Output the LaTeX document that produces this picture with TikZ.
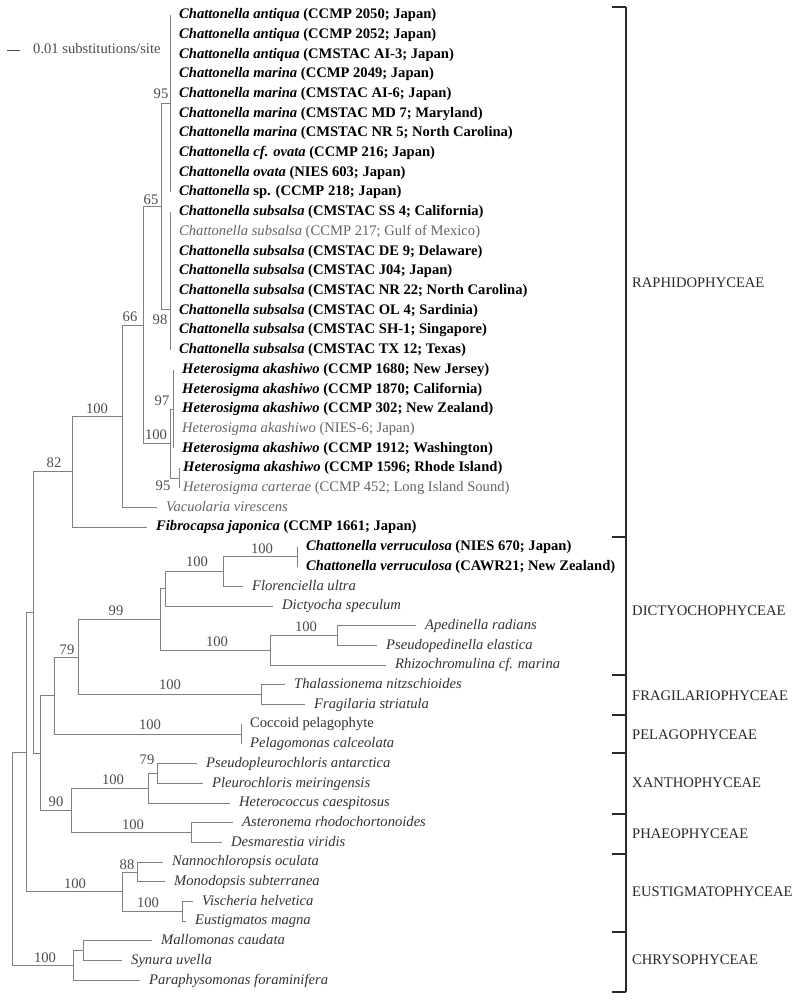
\documentclass[tikz,border=0pt]{standalone}
\usepackage{fontspec}
\setmainfont{Liberation Serif}
\usepackage{xcolor}
\usepackage{tikz}
\definecolor{TreeGray}{RGB}{128,128,128}
\definecolor{TextGray}{RGB}{100,100,100}
\definecolor{TextDark}{RGB}{50,50,50}
\definecolor{LabelGray}{RGB}{75,75,75}
\definecolor{BracketDark}{RGB}{40,40,40}
\newcommand{\strainb}[2]{\textbf{\textit{#1} #2}}
\newcommand{\straing}[2]{\textcolor{TextGray}{\textit{#1} #2}}
\newcommand{\taxon}[1]{\textcolor{TextDark}{\textit{#1}}}

\begin{document}
\begin{tikzpicture}[x=1pt, y=-1pt,
          leaf/.style={anchor=west, inner xsep=9pt, inner ysep=0pt,
                       text height=10.4pt, text depth=3pt,
                       font=\fontsize{14.6}{16}\selectfont},
          br/.style={draw=TreeGray, line width=0.9pt},
          bs/.style={font=\fontsize{14.6}{16}\selectfont, text=LabelGray,
                     inner sep=0pt},
          grp/.style={anchor=west, inner sep=0pt, text=BracketDark,
                      font=\fontsize{14.6}{16}\selectfont},
          bkt/.style={draw=BracketDark, line width=1.4pt}
        ]
        \useasboundingbox (0,0) rectangle (800,1000);
        % Scale bar
        \coordinate (sbL) at (7,50);
        \coordinate (sbR) at (20,50);
        \draw[br, draw=LabelGray] (sbL) -- (sbR);
        \node[leaf, inner xsep=0pt, text=LabelGray] (sbT) at (33,50)
              {0.01 substitutions/site};

        % Leaves
        \foreach \i/\tx/\txt in {
          1/170/{\strainb{Chattonella antiqua}{(CCMP 2050; Japan)}},
          2/170/{\strainb{Chattonella antiqua}{(CCMP 2052; Japan)}},
          3/170/{\strainb{Chattonella antiqua}{(CMSTAC AI-3; Japan)}},
          4/170/{\strainb{Chattonella marina}{(CCMP 2049; Japan)}},
          5/170/{\strainb{Chattonella marina}{(CMSTAC AI-6; Japan)}},
          6/170/{\strainb{Chattonella marina}{(CMSTAC MD 7; Maryland)}},
          7/170/{\strainb{Chattonella marina}{(CMSTAC NR 5; North Carolina)}},
          8/170/{\strainb{Chattonella cf. ovata}{(CCMP 216; Japan)}},
          9/170/{\strainb{Chattonella ovata}{(NIES 603; Japan)}},
          10/170/{\strainb{Chattonella}{sp. (CCMP 218; Japan)}},
          11/170/{\strainb{Chattonella subsalsa}{(CMSTAC SS 4; California)}},
          12/170/{\straing{Chattonella subsalsa}{(CCMP 217; Gulf of Mexico)}},
          13/170/{\strainb{Chattonella subsalsa}{(CMSTAC DE 9; Delaware)}},
          14/170/{\strainb{Chattonella subsalsa}{(CMSTAC J04; Japan)}},
          15/170/{\strainb{Chattonella subsalsa}{(CMSTAC NR 22; North Carolina)}},
          16/170/{\strainb{Chattonella subsalsa}{(CMSTAC OL 4; Sardinia)}},
          17/170/{\strainb{Chattonella subsalsa}{(CMSTAC SH-1; Singapore)}},
          18/170/{\strainb{Chattonella subsalsa}{(CMSTAC TX 12; Texas)}},
          19/173/{\strainb{Heterosigma akashiwo}{(CCMP 1680; New Jersey)}},
          20/173/{\strainb{Heterosigma akashiwo}{(CCMP 1870; California)}},
          21/173/{\strainb{Heterosigma akashiwo}{(CCMP 302; New Zealand)}},
          22/173/{\straing{Heterosigma akashiwo}{(NIES-6; Japan)}},
          23/173/{\strainb{Heterosigma akashiwo}{(CCMP 1912; Washington)}},
          26/157/{\textcolor{TextGray}{\textit{Vacuolaria virescens}}},
          27/147/{\strainb{Fibrocapsa japonica}{(CCMP 1661; Japan)}},
          28/297/{\strainb{Chattonella verruculosa}{(NIES 670; Japan)}},
          29/297/{\strainb{Chattonella verruculosa}{(CAWR21; New Zealand)}},
          30/243/{\taxon{Florenciella ultra}},
          31/273/{\taxon{Dictyocha speculum}},
          32/416/{\taxon{Apedinella radians}},
          33/377/{\taxon{Pseudopedinella elastica}},
          34/386/{\taxon{Rhizochromulina cf. marina}},
          35/285/{\taxon{Thalassionema nitzschioides}},
          36/305/{\taxon{Fragilaria striatula}},
          37/241/{\textcolor{TextDark}{Coccoid pelagophyte}},
          38/241/{\taxon{Pelagomonas calceolata}},
          39/197/{\taxon{Pseudopleurochloris antarctica}},
          40/203/{\taxon{Pleurochloris meiringensis}},
          41/230/{\taxon{Heterococcus caespitosus}},
          42/233/{\taxon{Asteronema rhodochortonoides}},
          43/222/{\taxon{Desmarestia viridis}},
          44/163/{\taxon{Nannochloropsis oculata}},
          45/165/{\taxon{Monodopsis subterranea}},
          46/193/{\taxon{Vischeria helvetica}},
          47/186/{\taxon{Eustigmatos magna}},
          48/152/{\taxon{Mallomonas caudata}},
          49/122/{\taxon{Synura uvella}},
          50/140/{\taxon{Paraphysomonas foraminifera}}} {
          \node[leaf] (t\i) at (\tx, {15+(\i-1)*19.7}) {\txt};
        }
        \foreach \i/\txt in {
          24/{\strainb{Heterosigma akashiwo}{(CCMP 1596; Rhode Island)}},
          25/{\straing{Heterosigma carterae}{(CCMP 452; Long Island Sound)}}} {
          \node[leaf, inner xsep=4pt] (t\i) at (179, {15+(\i-1)*19.7}) {\txt};
        }

        % Internal nodes
        \coordinate (root) at (12,858.8);
        \coordinate (n1)   at (26,752);
        \coordinate (n2)   at (33,612.3);
        \coordinate (n82)  at (72,471.6);
        \coordinate (n100r) at (122,416);
        \coordinate (n66)  at (143,325);
        \coordinate (n65)  at (161,206);
        \coordinate (nA)   at (170,103.6);
        \coordinate (nB)   at (170,309);
        \coordinate (n100h) at (170,443.5);
        \coordinate (n97)  at (173,409);
        \coordinate (n95c) at (179,478);
        \coordinate (n3)   at (40,753);
        \coordinate (n4)   at (54,695.5);
        \coordinate (n79)  at (78,657);
        \coordinate (n99)  at (160,619.5);
        \coordinate (nD1)  at (165,588.8);
        \coordinate (n100d) at (223,571.5);
        \coordinate (nVer) at (297,556.7);
        \coordinate (nRh)  at (270,650.3);
        \coordinate (nApe) at (337,635.5);
        \coordinate (nFr)  at (261,694.6);
        \coordinate (nPe)  at (241,734);
        \coordinate (n90)  at (71,810.4);
        \coordinate (nX)   at (148,788.2);
        \coordinate (nX79) at (157,773.4);
        \coordinate (nPh)  at (191,832.5);
        \coordinate (nEu)  at (122,891.7);
        \coordinate (n88)  at (137,872);
        \coordinate (nVi)  at (182,911.4);
        \coordinate (nCh)  at (73,965.5);
        \coordinate (nSy)  at (83,950.8);

        % Branches
        \foreach \p/\c in {root/n1, root/nCh, n1/n2, n1/nEu, n2/n82, n2/n3,
            n82/n100r, n82/t27.west, n100r/n66, n100r/t26.west,
            n66/n65, n66/n100h, n65/nA, n65/nB, n100h/n97, n100h/n95c,
            n3/n4, n3/n90, n4/n79, n4/nPe, n79/n99, n79/nFr,
            n99/nD1, n99/nRh, nD1/n100d, nD1/t31.west,
            n100d/nVer, n100d/t30.west, nVer/t28.west, nVer/t29.west,
            nRh/nApe, nRh/t34.west, nApe/t32.west, nApe/t33.west,
            nFr/t35.west, nFr/t36.west, nPe/t37.west, nPe/t38.west,
            n90/nX, n90/nPh, nX/nX79, nX/t41.west,
            nX79/t39.west, nX79/t40.west, nPh/t42.west, nPh/t43.west,
            nEu/n88, nEu/nVi, n88/t44.west, n88/t45.west,
            nVi/t46.west, nVi/t47.west,
            nCh/nSy, nCh/t50.west, nSy/t48.west, nSy/t49.west} {
          \draw[br] (\p) |- (\c);
        }
        \foreach \i in {1,...,10} { \draw[br] (nA) |- (t\i.west); }
        \foreach \i in {11,...,18} { \draw[br] (nB) |- (t\i.west); }
        \foreach \i in {19,...,23} { \draw[br] (n97) |- (t\i.west); }
        \foreach \i in {24,25} { \draw[br] (n95c) |- (t\i.west); }

        % Bootstrap values
        \foreach \n/\x/\y/\v in {a/161/94/95, b/151/200/65, c/160/320/98,
            d/130/317/66, e/162/401/97, f/156/435/100, g/163/486/95,
            h/97/409/100, i/54/463/82, j/262/549/100, k/197/562/100,
            l/116/611/99, m/217/642/100, n/306/627/100, o/67/650/79,
            p/170/685/100, q/150/725/100, r/113/780/100, s/147/760/79,
            t/56/802/90, u/133/825/100, v/127/865/88, w/75/884/100,
            x/148/903/100, y/45/958/100} {
          \node[bs] (bs\n) at (\x,\y) {\v};
        }

        % Class bracket
        \coordinate (bkTop) at (626,7);
        \coordinate (bkBot) at (626,992);
        \draw[bkt] (bkTop) -- (bkBot);
        \foreach \k/\y in {0/7, 1/537, 2/675, 3/715, 4/753, 5/814,
            6/854, 7/932, 8/992} {
          \coordinate (tick\k) at (626,\y);
          \draw[bkt] (tick\k) -- ++(-14,0);
        }
        \foreach \k/\y/\txt in {1/283/RAPHIDOPHYCEAE, 2/611/DICTYOCHOPHYCEAE,
            3/696/FRAGILARIOPHYCEAE, 4/735/PELAGOPHYCEAE,
            5/783/XANTHOPHYCEAE, 6/834/PHAEOPHYCEAE,
            7/892/EUSTIGMATOPHYCEAE, 8/960/CHRYSOPHYCEAE} {
          \node[grp] (grp\k) at (632,\y) {\txt};
        }
      \end{tikzpicture}
\end{document}
